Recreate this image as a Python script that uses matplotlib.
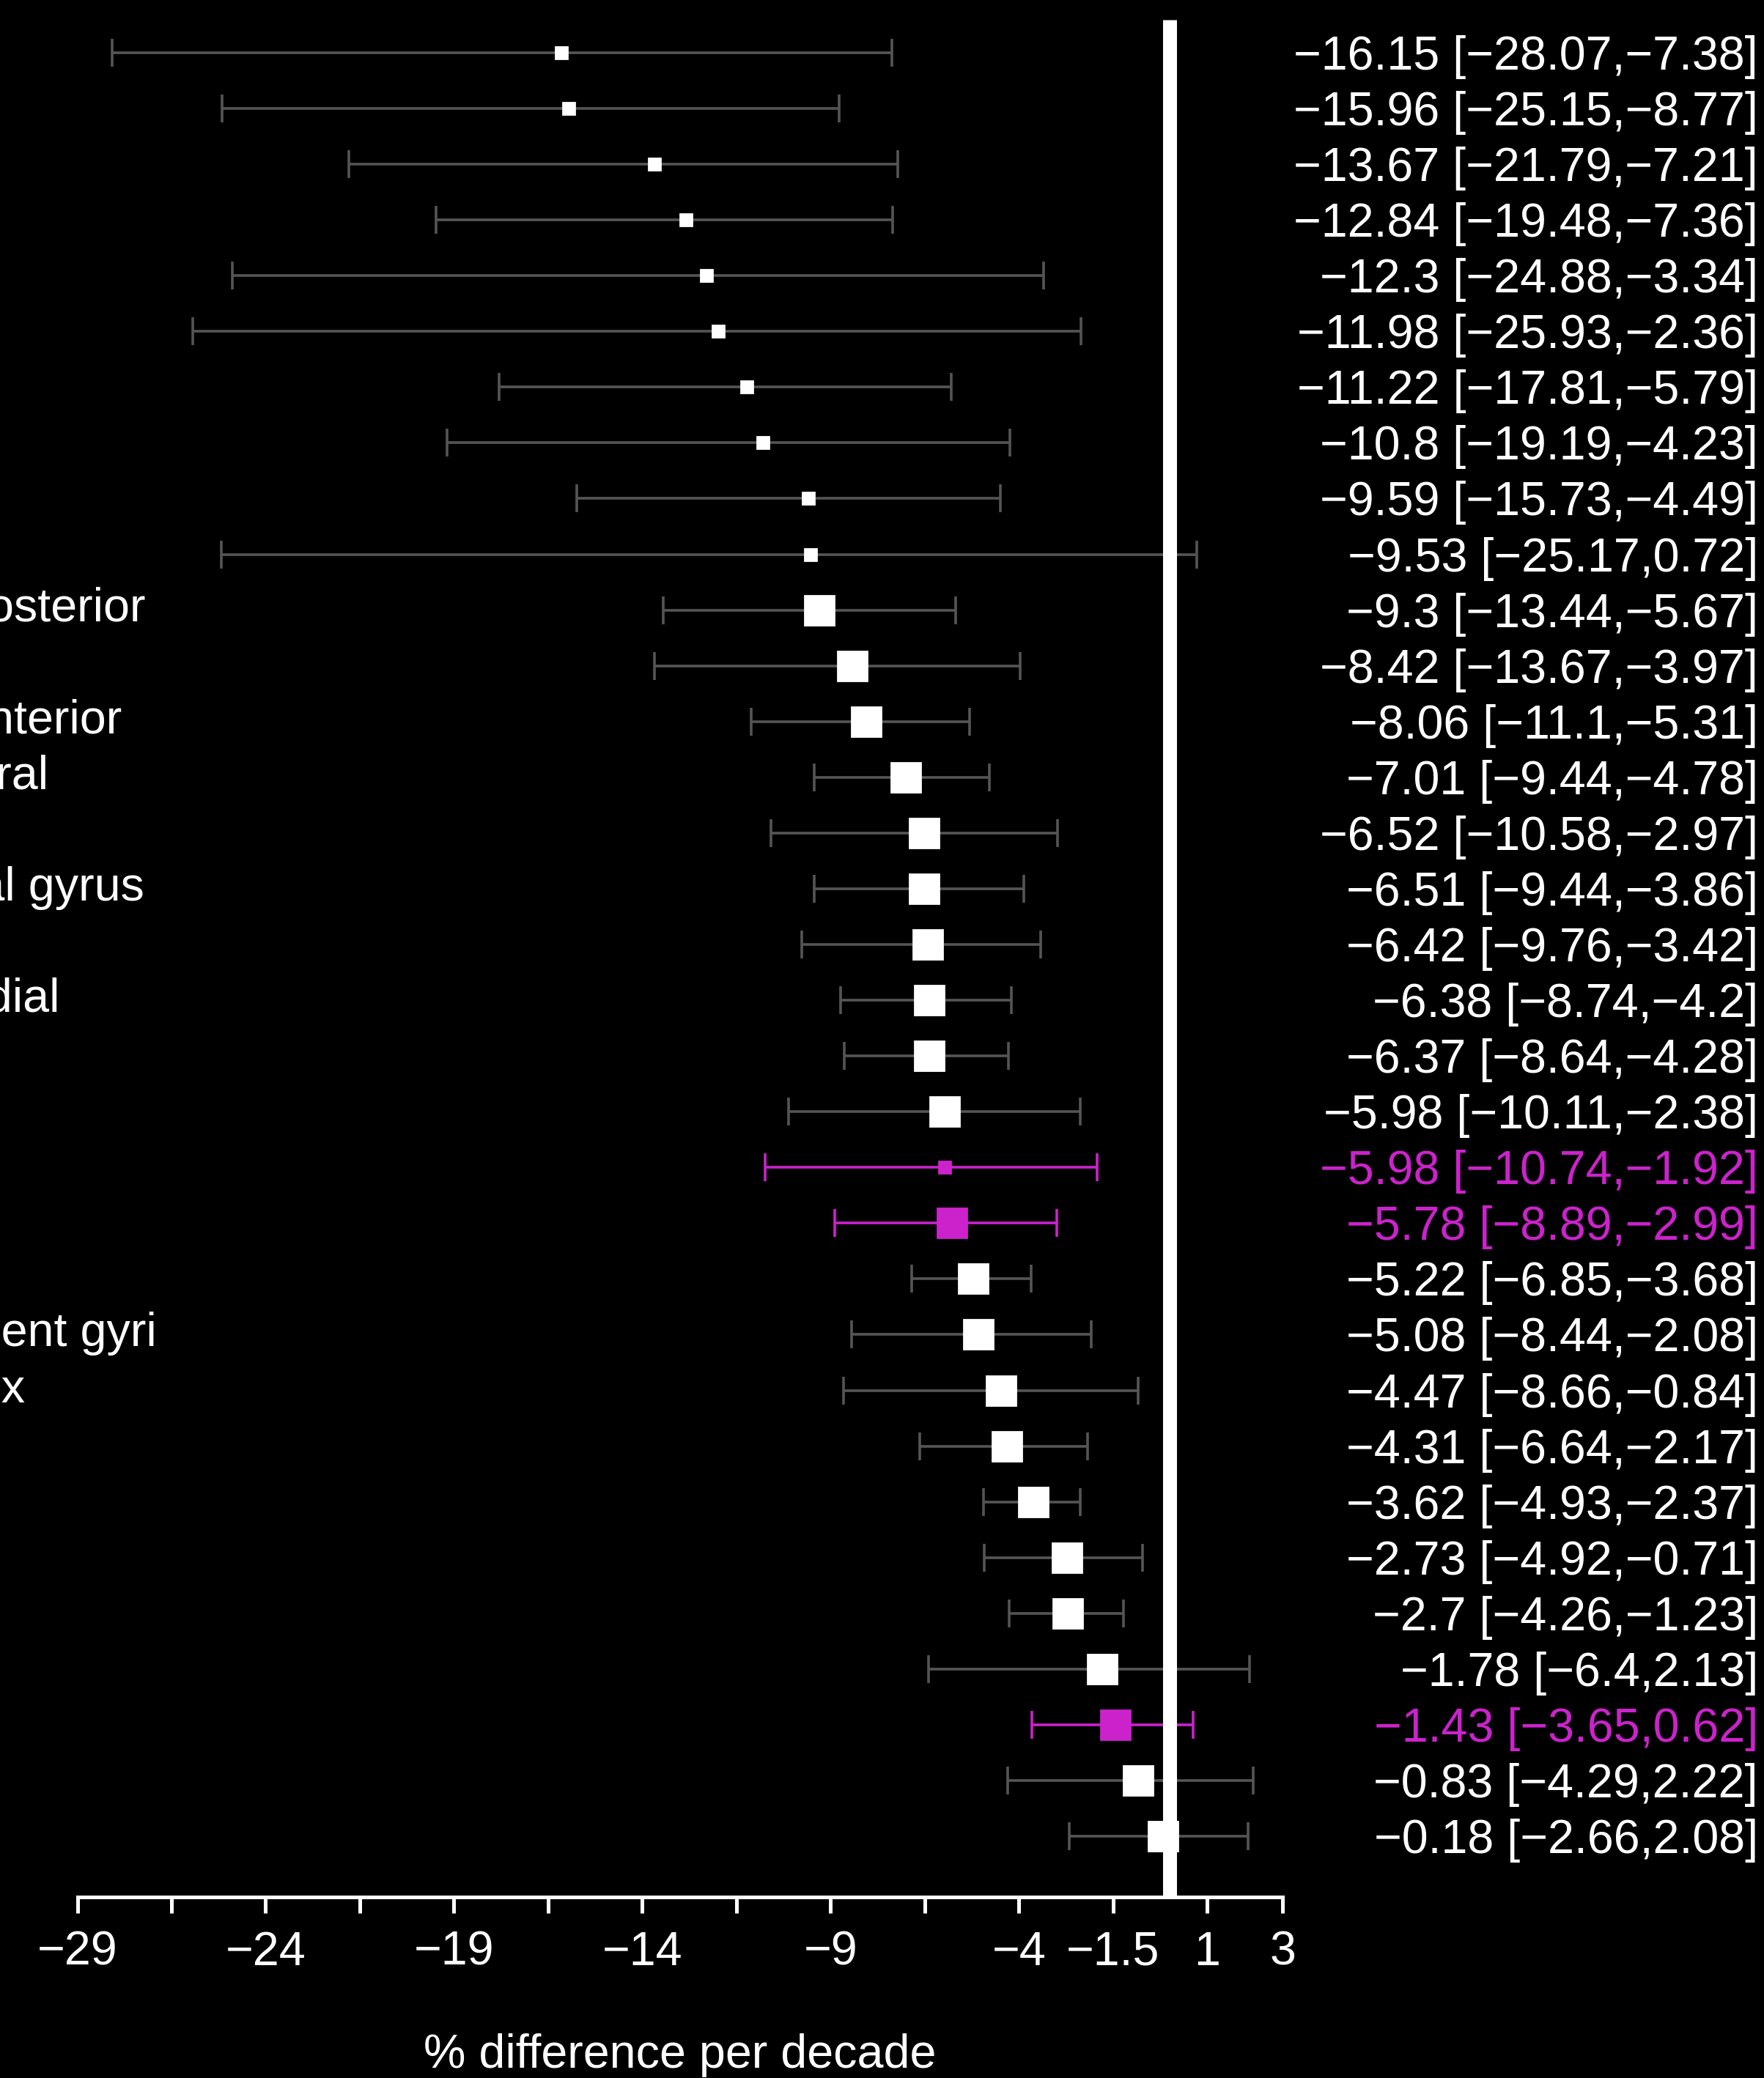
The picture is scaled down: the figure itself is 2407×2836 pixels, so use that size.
import matplotlib.pyplot as plt
from matplotlib import transforms

plt.rcParams['font.family'] = ['Liberation Sans', 'DejaVu Sans']

# estimates with 95% CI, top row first
est = [-16.15, -15.96, -13.67, -12.84, -12.3, -11.98, -11.22, -10.8, -9.59, -9.53,
       -9.3, -8.42, -8.06, -7.01, -6.52, -6.51, -6.42, -6.38, -6.37, -5.98,
       -5.98, -5.78, -5.22, -5.08, -4.47, -4.31, -3.62, -2.73, -2.7, -1.78,
       -1.43, -0.83, -0.18]
lower = [-28.07, -25.15, -21.79, -19.48, -24.88, -25.93, -17.81, -19.19, -15.73, -25.17,
         -13.44, -13.67, -11.1, -9.44, -10.58, -9.44, -9.76, -8.74, -8.64, -10.11,
         -10.74, -8.89, -6.85, -8.44, -8.66, -6.64, -4.93, -4.92, -4.26, -6.4,
         -3.65, -4.29, -2.66]
upper = [-7.38, -8.77, -7.21, -7.36, -3.34, -2.36, -5.79, -4.23, -4.49, 0.72,
         -5.67, -3.97, -5.31, -4.78, -2.97, -3.86, -3.42, -4.2, -4.28, -2.38,
         -1.92, -2.99, -3.68, -2.08, -0.84, -2.17, -2.37, -0.71, -1.23, 2.13,
         0.62, 2.22, 2.08]
highlight_rows = [21, 22, 31]
small_rows = [1, 2, 3, 4, 5, 6, 7, 8, 9, 10, 21]

# row labels: only their right-hand ends are inside the picture
side_labels = {11: "posterior", 13: "anterior", 14: "lateral", 16: "frontal gyrus",
               18: "medial", 24: "adjacent gyri", 25: "cortex"}
side_label_end_px = {11: 199, 13: 166, 14: 67, 16: 197, 18: 82, 24: 214, 25: 34}

major_ticks = [-29, -24, -19, -14, -9, -4, -1.5, 1, 3]
minor_ticks = [-26.5, -21.5, -16.5, -11.5, -6.5]

W, H, DPI = 2407, 2836, 100
MAGENTA = '#cc22cc'
GREY = '#555555'
FS = 46.5


def fmt(v):
    return f"{v:g}".replace('-', '\u2212')


fig = plt.figure(figsize=(W / DPI, H / DPI), dpi=DPI, facecolor='black')
ax = fig.add_axes([105.5 / W, 1 - 2589 / H, (1750 - 105.5) / W, (2589 - 27) / H])
ax.set_facecolor('black')

n = len(est)
ax.set_xlim(-29, 3)
ax.set_ylim(n + 1.09, 0.41)

for s in ['top', 'left', 'right']:
    ax.spines[s].set_visible(False)
ax.spines['bottom'].set_color('white')
ax.spines['bottom'].set_linewidth(3.6)

ax.set_xticks(major_ticks)
ax.set_xticklabels([fmt(t) for t in major_ticks])
ax.set_xticks(minor_ticks, minor=True)
ax.set_yticks([])
ax.tick_params(axis='x', which='both', direction='out', length=16, width=3.6,
               color='white', labelcolor='white', labelsize=FS, pad=17)

ax.axvline(0, color='white', lw=13.7, solid_capstyle='butt', zorder=3)

blend = transforms.blended_transform_factory(fig.transFigure, ax.transData)
right_tr = blend + transforms.ScaledTranslation(0, -23 / DPI, fig.dpi_scale_trans)
left_tr = blend + transforms.ScaledTranslation(0, -15.7 / DPI, fig.dpi_scale_trans)

for i in range(n):
    row = i + 1
    c_bar = MAGENTA if row in highlight_rows else GREY
    c_pt = MAGENTA if row in highlight_rows else 'white'
    ms = 11 if row in small_rows else 29
    ax.errorbar(est[i], row, xerr=[[est[i] - lower[i]], [upper[i] - est[i]]], fmt='none',
                ecolor=c_bar, elinewidth=2.6, capsize=13.5, capthick=2.6, zorder=2)
    ax.plot(est[i], row, marker='s', ms=ms, color=c_pt, mec=c_pt, mew=2,
            ls='none', zorder=4)
    txt_col = MAGENTA if row in highlight_rows else 'white'
    ax.text(2399 / W, row, f"{fmt(est[i])} [{fmt(lower[i])},{fmt(upper[i])}]",
            transform=right_tr, ha='right', va='baseline', fontsize=FS, color=txt_col)

for row, lab in side_labels.items():
    ax.text(side_label_end_px[row] / W, row, lab, transform=left_tr, ha='right',
            va='baseline', fontsize=FS, color='white')

ax.set_xlabel('% difference per decade', fontsize=FS, color='white', va='baseline')
ax.xaxis.set_label_coords(0.5, (14 - 247) / 2562)

fig.savefig('out.png', dpi=DPI, facecolor='black')
